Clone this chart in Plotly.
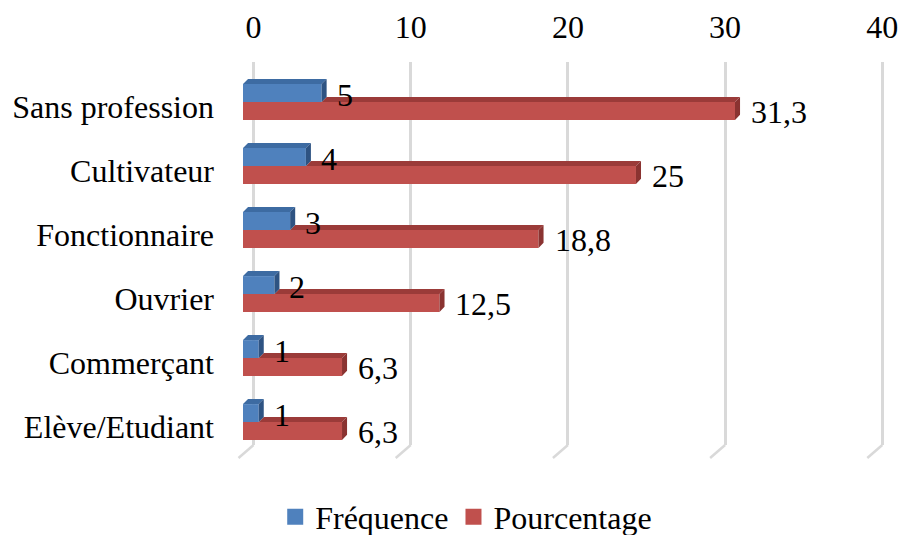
import plotly.graph_objects as go

# data (top to bottom as in the chart)
categories = ["Sans profession", "Cultivateur", "Fonctionnaire", "Ouvrier", "Commerçant", "Elève/Etudiant"]
frequence = [5, 4, 3, 2, 1, 1]
pourcentage = [31.3, 25, 18.8, 12.5, 6.3, 6.3]
x_ticks = [0, 10, 20, 30, 40]

FONT = "Liberation Serif"
BLUE, BLUE_TOP, BLUE_SIDE = "#4F81BD", "#3D6BA2", "#2E5382"
RED, RED_TOP, RED_SIDE = "#C0504D", "#9B3B39", "#8A3331"

n = len(categories)
pos = [n - 1 - i for i in range(n)]       # row index, bottom = 0
w = 0.28                                   # bar thickness (row units)
dx, dy = 0.32, 0.08                        # fake 3D depth

# axis geometry
x_rng = [0, 41.16]
shift = 0.67                               # back wall offset (x units)
x2_rng = [x_rng[0] - shift, x_rng[1] - shift]
y_rng = [-0.359, 5.625]


def lab(v):
    return f"{v:g}".replace(".", ",")


fig = go.Figure()

# front faces
fig.add_trace(go.Bar(y=[p + w / 2 for p in pos], x=frequence, orientation="h", width=w,
                     marker=dict(color=BLUE, line=dict(width=0)), showlegend=False, hoverinfo="skip"))
fig.add_trace(go.Bar(y=[p - w / 2 for p in pos], x=pourcentage, orientation="h", width=w,
                     marker=dict(color=RED, line=dict(width=0)), showlegend=False, hoverinfo="skip"))


def faces(vals, lows, highs, start_vals):
    top_x, top_y, side_x, side_y = [], [], [], []
    for v, lo, hi, s in zip(vals, lows, highs, start_vals):
        top_x += [s, v, v + dx, s + dx, s, None]
        top_y += [hi, hi, hi + dy, hi + dy, hi, None]
        side_x += [v, v, v + dx, v + dx, v, None]
        side_y += [lo, hi, hi + dy, lo + dy, lo, None]
    return top_x, top_y, side_x, side_y


# red depth (top strip only where not hidden by blue bar)
tx, ty, sx, sy = faces(pourcentage, [p - w for p in pos], pos, frequence)
fig.add_trace(go.Scatter(x=tx, y=ty, fill="toself", fillcolor=RED_TOP, mode="lines",
                         line=dict(width=0), showlegend=False, hoverinfo="skip"))
fig.add_trace(go.Scatter(x=sx, y=sy, fill="toself", fillcolor=RED_SIDE, mode="lines",
                         line=dict(width=0), showlegend=False, hoverinfo="skip"))
# blue depth
tx, ty, sx, sy = faces(frequence, pos, [p + w for p in pos], [0] * n)
fig.add_trace(go.Scatter(x=tx, y=ty, fill="toself", fillcolor=BLUE_TOP, mode="lines",
                         line=dict(width=0), showlegend=False, hoverinfo="skip"))
fig.add_trace(go.Scatter(x=sx, y=sy, fill="toself", fillcolor=BLUE_SIDE, mode="lines",
                         line=dict(width=0), showlegend=False, hoverinfo="skip"))

# legend entries (on the back-wall axis)
fig.add_trace(go.Scatter(x=[None], y=[None], mode="markers", name="Fréquence", xaxis="x2",
                         marker=dict(symbol="square", size=16, color=BLUE)))
fig.add_trace(go.Scatter(x=[None], y=[None], mode="markers", name="Pourcentage", xaxis="x2",
                         marker=dict(symbol="square", size=16, color=RED)))

# value labels
ann = []
for p, v in zip(pos, frequence):
    ann.append(dict(x=v, y=p, xref="x", yref="y", text=lab(v), showarrow=False,
                    xanchor="left", yanchor="middle", xshift=13, yshift=7))
for p, v in zip(pos, pourcentage):
    ann.append(dict(x=v, y=p - w / 2, xref="x", yref="y", text=lab(v), showarrow=False,
                    xanchor="left", yanchor="middle", xshift=14, yshift=-1))

# floor edges of the gridlines
shapes = []
for t in x_ticks:
    px = (t - x2_rng[0]) / (x2_rng[1] - x2_rng[0])
    shapes.append(dict(type="line", xref="paper", yref="paper", x0=px, y0=0,
                       x1=px - 15 / 647, y1=-13 / 383, line=dict(color="#d9d9d9", width=2.5)))

fig.update_layout(
    width=900, height=535,
    margin=dict(l=243, r=10, t=62, b=90, autoexpand=False),
    paper_bgcolor="white", plot_bgcolor="white",
    font=dict(family=FONT, size=32, color="black"),
    barmode="overlay",
    xaxis=dict(range=x_rng, showgrid=False, zeroline=False, showticklabels=False,
               automargin=False, fixedrange=True),
    xaxis2=dict(range=x2_rng, overlaying="x", side="top", anchor="y", tickvals=x_ticks,
                showgrid=True, gridcolor="#d9d9d9", gridwidth=2.5, zeroline=False,
                showline=False, ticks="", ticklabelstandoff=17, automargin=False),
    yaxis=dict(range=y_rng, tickvals=[p - 0.07 for p in pos], ticktext=categories,
               showgrid=False, zeroline=False, showline=False, ticks="", ticklabelstandoff=28,
               automargin=False),
    legend=dict(orientation="h", x=0.345, y=-0.188, xanchor="center", yanchor="middle",
                font=dict(size=32)),
    annotations=ann,
    shapes=shapes,
)

fig.write_html("out.html", config={"displayModeBar": False},
               post_script="document.body.style.margin='0';")
